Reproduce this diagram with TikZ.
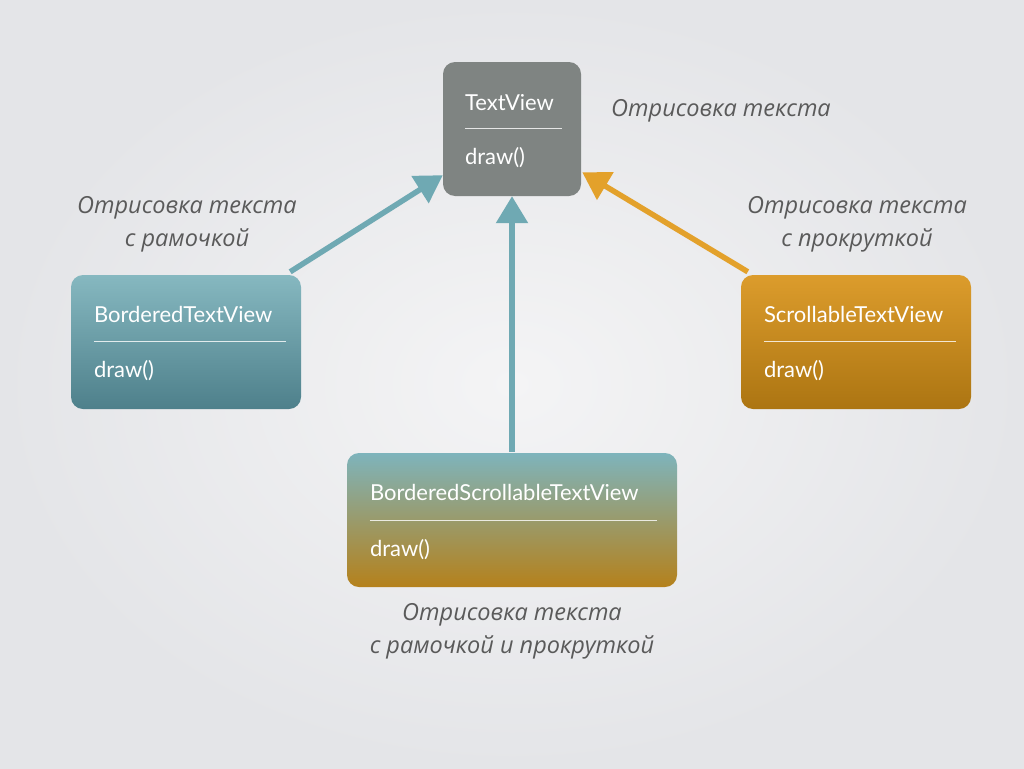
\documentclass[tikz,border=0pt]{standalone}
\usepackage{fontspec}
\setmainfont{Lato}
\newfontfamily\lblfont{Open Sans}
\usetikzlibrary{arrows.meta,calc}
\definecolor{bgin}{HTML}{F4F4F5}
\definecolor{bgout}{HTML}{E4E5E8}
\definecolor{tvgray}{HTML}{7F8482}
\definecolor{tealtop}{HTML}{86B8C0}
\definecolor{tealbot}{HTML}{4E808B}
\definecolor{orgtop}{HTML}{DC9C2C}
\definecolor{orgbot}{HTML}{AC7512}
\definecolor{mixtop}{HTML}{7EB4BC}
\definecolor{mixbot}{HTML}{B5811B}
\definecolor{tealarrow}{HTML}{6FA9B3}
\definecolor{orgarrow}{HTML}{E3A12B}
\definecolor{lbl}{HTML}{5A5A5A}
\tikzset{
  classbox/.style={rectangle, rounded corners=12pt, inner sep=0pt, minimum height=134pt},
  title/.style={anchor=base west, inner sep=0pt, text=white, font=\fontsize{22}{26}\selectfont},
  method/.style={anchor=base west, inner sep=0pt, text=white, font=\fontsize{22}{26}\selectfont},
  sep/.style={draw=white, opacity=0.8, line width=0.8pt},
  note/.style={align=center, text=lbl, font=\lblfont\itshape\fontsize{23.5}{33}\selectfont, inner sep=0pt},
  inherit/.style={line width=5.5pt, -{Triangle[length=27pt,width=31pt]}, shorten >=0pt},
}
\begin{document}
\begin{tikzpicture}[x=1pt,y=-1pt]
\useasboundingbox (0,0) rectangle (1024,768);
\shade[inner color=bgin, outer color=bgout] (0,0) rectangle (1024,768);

% boxes
\node[classbox, fill=tvgray, minimum width=138pt] (tv) at (512,129) {};
\node[classbox, top color=tealtop, bottom color=tealbot, minimum width=230pt] (bt) at (186,342) {};
\node[classbox, top color=orgtop, bottom color=orgbot, minimum width=230pt] (st) at (856,342) {};
\node[classbox, top color=mixtop, bottom color=mixbot, minimum width=330pt] (bst) at (512,520) {};

% TextView contents
\node[title] (tvt) at ($(tv.north west)+(22,49)$) {TextView};
\draw[sep] ($(tv.north west)+(22,67)$) coordinate (tvl1) -- ($(tv.north east)+(-19,67)$) coordinate (tvl2);
\node[method] (tvm) at ($(tv.north west)+(22,103)$) {draw()};

% BorderedTextView contents
\node[title] (btt) at ($(bt.north west)+(23,48)$) {BorderedTextView};
\draw[sep] ($(bt.north west)+(23,67)$) coordinate (btl1) -- ($(bt.north east)+(-15,67)$) coordinate (btl2);
\node[method] (btm) at ($(bt.north west)+(23,103)$) {draw()};

% ScrollableTextView contents
\node[title] (stt) at ($(st.north west)+(23,48)$) {ScrollableTextView};
\draw[sep] ($(st.north west)+(23,67)$) coordinate (stl1) -- ($(st.north east)+(-15,67)$) coordinate (stl2);
\node[method] (stm) at ($(st.north west)+(23,103)$) {draw()};

% BorderedScrollableTextView contents
\node[title] (bstt) at ($(bst.north west)+(23,48)$) {BorderedScrollableTextView};
\draw[sep] ($(bst.north west)+(23,68)$) coordinate (bstl1) -- ($(bst.north east)+(-20,68)$) coordinate (bstl2);
\node[method] (bstm) at ($(bst.north west)+(23,104)$) {draw()};

% notes
\node[note] (n0) at (721,111) {Отрисовка текста};
\node[note] (n1) at (187,224) {Отрисовка текста\\с рамочкой};
\node[note] (n2) at (857,224) {Отрисовка текста\\с прокруткой};
\node[note] (n3) at (512,631) {Отрисовка текста\\с рамочкой и прокруткой};

% arrows
\coordinate (a1s) at ($(bt.north east)+(-11,-3)$);
\coordinate (a1e) at ($(tv.south west)+(0,-21)$);
\draw[inherit, tealarrow] (a1s) -- (a1e);
\coordinate (a2s) at ($(bst.north)+(0,-1)$);
\coordinate (a2e) at ($(tv.south)+(0,0)$);
\draw[inherit, tealarrow] (a2s) -- (a2e);
\coordinate (a3s) at ($(st.north west)+(7,-3)$);
\coordinate (a3e) at ($(tv.south east)+(1,-24)$);
\draw[inherit, orgarrow] (a3s) -- (a3e);
\end{tikzpicture}
\end{document}
